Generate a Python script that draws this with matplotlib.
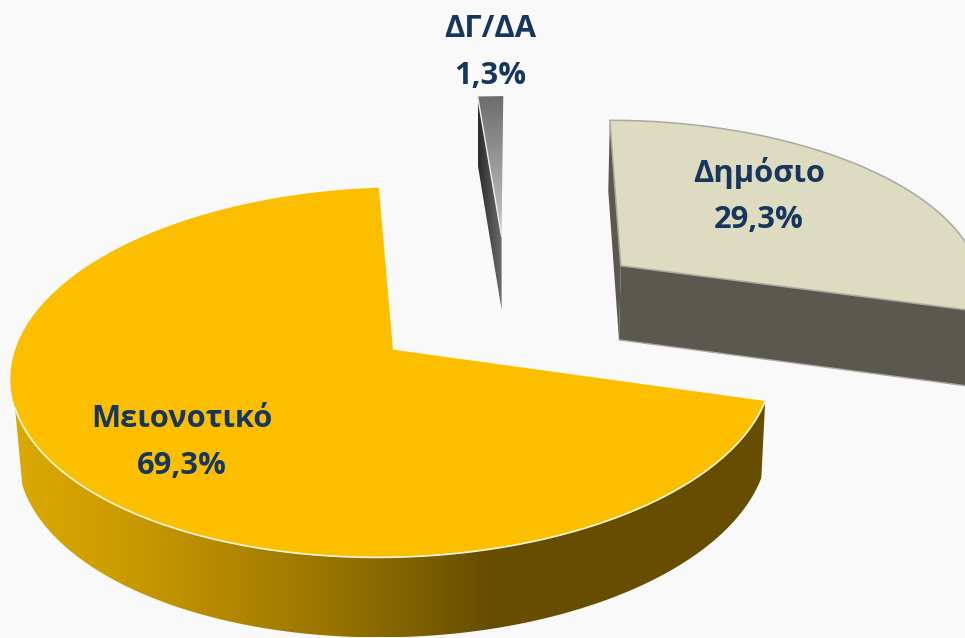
import numpy as np
import matplotlib
matplotlib.use("Agg")
import matplotlib.pyplot as plt
from matplotlib.colors import to_rgb
from matplotlib.patches import Polygon

# slices, clockwise from the right edge of the big one
categories = ["Μειονοτικό", "ΔΓ/ΔΑ", "Δημόσιο"]
values = [69.3, 1.3, 29.3]
explode = [0.38, 0.42, 0.41]

start_angle = -15.8
bg = "#f9f9f9"
text_color = "#17365d"

# projection of the tilted pie, pixels
cx, cy = 504, 307
f, b, k = 367, 172, 0.119
wall_depth = 75
small_shift = np.array([3, -2])

plt.rcParams['font.family'] = ['Open Sans', 'DejaVu Sans']


def project(u, v, low=False):
    x = f * u / (1 + k * v)
    y = -b * v / (1 + k * v)
    if low:
        x = x * 0.985
        y = y + wall_depth / (1 + 0.05 * v)
    return cx + x, cy + y


def arc(a0, a1, e, mid, n=240):
    t = np.radians(np.linspace(a0, a1, n))
    m = np.radians(mid)
    return e * np.cos(m) + np.cos(t), e * np.sin(m) + np.sin(t)


def center(e, mid):
    return e * np.cos(np.radians(mid)), e * np.sin(np.radians(mid))


def pts(us, vs, low=False):
    x, y = project(np.asarray(us), np.asarray(vs), low)
    return np.column_stack([x, y])


def grad_fill(points, pos, colors, vertical=False):
    # smooth fill: an image of the gradient clipped to the polygon
    cols = np.array([to_rgb(c) for c in colors])
    lo, hi = points.min(axis=0), points.max(axis=0)
    axis = 1 if vertical else 0
    grid = np.linspace(lo[axis], hi[axis], 400)
    line = np.column_stack([np.interp(grid, pos, cols[:, i]) for i in range(3)])
    img = line[:, None, :] if vertical else line[None, :, :]
    im = ax.imshow(img, extent=[lo[0], hi[0], hi[1], lo[1]], origin="upper",
                   aspect="auto", interpolation="bilinear", zorder=ax_z[0])
    patch = Polygon(points, closed=True, transform=ax.transData, fc="none", ec="none")
    im.set_clip_path(patch)
    ax_z[0] += 1


def draw_main(a0, a1, e, mid):
    ux, vx = center(e, mid)
    u, v = arc(a0, a1, e, mid)
    angles = np.linspace(a0, a1, 240)
    front = angles > -163
    wall = np.vstack([pts(u[front], v[front]), pts(u[front], v[front], True)[::-1]])
    grad_fill(wall, [15, 100, 200, 300, 400, 490],
              ["#dba800", "#cf9f00", "#b98d00", "#a07a00", "#836400", "#664d00"])
    top = pts(np.r_[ux, u], np.r_[vx, v])
    ax.fill(top[:, 0], top[:, 1], color="#fcbf00", lw=0, zorder=ax_z[0])
    rim = pts(u[front], v[front])
    ax.plot(rim[:, 0], rim[:, 1], color="#fff8e0", lw=1.2, zorder=ax_z[0] + 1)
    ax_z[0] += 2


def draw_public(a0, a1, e, mid):
    ux, vx = center(e, mid)
    u, v = arc(a0, a1, e, mid)
    wall = "#5b5850"
    line = "#a9a9a2"
    z = ax_z[0]
    # cut faces, back one then front one
    back = np.vstack([pts([u[0], ux], [v[0], vx]), pts([ux, u[0]], [vx, v[0]], True)])
    ax.fill(back[:, 0], back[:, 1], color=wall, lw=0, zorder=z)
    front = np.vstack([pts([ux, u[-1]], [vx, v[-1]]), pts([u[-1], ux], [v[-1], vx], True)])
    ax.fill(front[:, 0], front[:, 1], color=wall, lw=0, zorder=z)
    low = pts([ux, u[-1]], [vx, v[-1]], True)
    ax.plot(low[:, 0], low[:, 1], color=line, lw=1, zorder=z)
    top = pts(np.r_[ux, u], np.r_[vx, v])
    ax.fill(top[:, 0], top[:, 1], facecolor="#dddbc0", edgecolor=line, lw=1.1, zorder=z + 1)
    ax_z[0] += 2


def draw_small(a0, a1, e, mid):
    ux, vx = center(e, mid)
    u, v = arc(a0, a1, e, mid, 2)
    # left cut face, dark at the back
    cut = np.vstack([pts([u[0], ux], [v[0], vx]), pts([ux, u[0]], [vx, v[0]], True)]) + small_shift
    grad_fill(cut, [cut[:, 0].min(), cut[:, 0].max()], ["#2b2b2b", "#6e6e6e"])
    # top face, light towards the tip
    top = pts([ux, u[0], u[1]], [vx, v[0], v[1]]) + small_shift
    grad_fill(top, [top[:, 1].min(), top[:, 1].max()], ["#6c6c6c", "#c9c9c9"], vertical=True)
    edge = pts([u[0], ux], [v[0], vx]) + small_shift
    ax.plot(edge[:, 0], edge[:, 1], color="#eeeeee", lw=1, zorder=ax_z[0])
    ax_z[0] += 1


fig = plt.figure(figsize=(9.65, 6.38), dpi=100, facecolor=bg)
ax = fig.add_axes([0, 0, 1, 1])
ax.axis("off")
ax_z = [1]

total = sum(values)
spans = [val / total * 360 for val in values]
edges = start_angle - np.cumsum([0] + spans)
mids = (edges[:-1] + edges[1:]) / 2

draw_small(edges[1], edges[2], explode[1], mids[1])
draw_public(edges[2], edges[3], explode[2], mids[2])
draw_main(edges[0], edges[1], explode[0], mids[0])

label_x = [182, 490, 759]
label_y = [418, 28, 172]
for name, val, x, y in zip(categories, values, label_x, label_y):
    ax.text(x, y + 1, name, ha="center", va="center", color=text_color, fontsize=22.2,
            fontweight="bold", zorder=ax_z[0])
    ax.text(x, y + 48, f"{val:.1f}%".replace(".", ","), ha="center", va="center",
            color=text_color, fontsize=22.2, fontweight="bold", zorder=ax_z[0])

ax.set_xlim(0, 965)
ax.set_ylim(638, 0)
fig.savefig("out.png", dpi=100, facecolor=bg)
